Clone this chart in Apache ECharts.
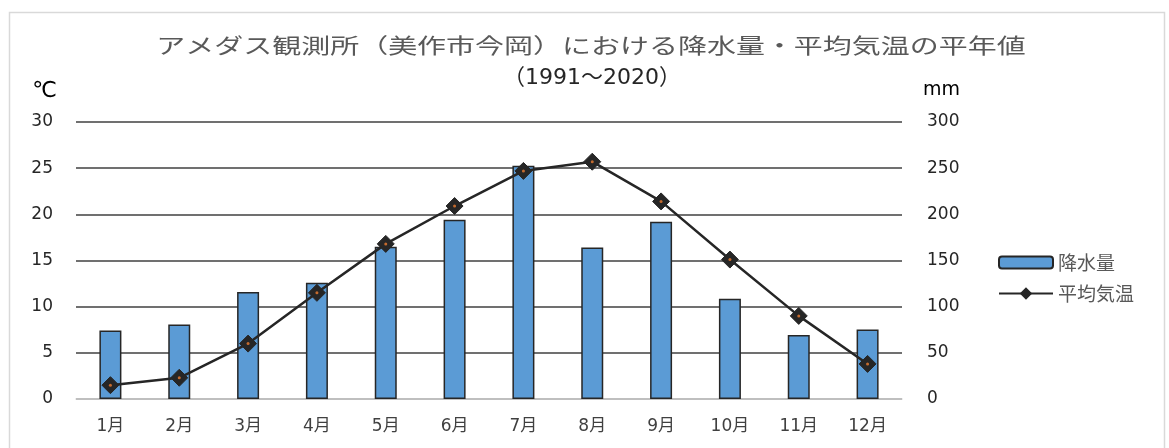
<!DOCTYPE html>
<html>
<head>
<meta charset="utf-8">
<script src="https://cdn.jsdelivr.net/npm/echarts@6/dist/echarts.min.js"></script>
<style>
html,body{margin:0;padding:0;background:#fff;}
#c{width:1169px;height:448px;}
</style>
</head>
<body>
<div id="c"></div>
<script>
const titleText = 'アメダス観測所（美作市今岡）における降水量・平均気温の平年値';
const subTitleText = '（1991～2020）';
const months = ['1月','2月','3月','4月','5月','6月','7月','8月','9月','10月','11月','12月'];
const precipitation = [74.2, 80.7, 116, 126, 165, 194, 252.5, 164, 192, 108.5, 69.3, 75.3];
const temperature = [1.5, 2.3, 6.0, 11.5, 16.8, 20.9, 24.7, 25.7, 21.4, 15.1, 9.0, 3.8];
const tempAxis = {name: '℃', min: 0, max: 30, interval: 5};
const precAxis = {name: 'mm', min: 0, max: 300, interval: 50};
const seriesNames = ['降水量', '平均気温'];

const FONT = '"Noto Sans CJK JP", sans-serif';
const NUMFONT = '"DejaVu Sans", "Noto Sans CJK JP", sans-serif';

const chart = echarts.init(document.getElementById('c'), null, {renderer: 'canvas'});
chart.setOption({
  backgroundColor: '#fff',
  animation: false,
  graphic: [
    {type: 'rect', shape: {x: 9.5, y: 12.5, width: 1155, height: 460}, style: {fill: 'none', stroke: '#d9d9d9', lineWidth: 1.5}, z: -1},
    {type: 'text', x: 591, y: 45, scaleX: 1.38, style: {text: titleText, font: '21px ' + FONT, fill: '#595959', textAlign: 'center', textVerticalAlign: 'middle'}},
    {type: 'text', x: 592, y: 78, style: {text: subTitleText, font: '22px ' + NUMFONT, fill: '#262626', textAlign: 'center', textVerticalAlign: 'middle'}}
  ],
  grid: {left: 76, right: 267, top: 122, bottom: 49, containLabel: false},
  legend: {
    orient: 'vertical', left: 993, top: 248, itemWidth: 54, itemHeight: 12, itemGap: 12,
    data: seriesNames,
    textStyle: {fontFamily: FONT, fontSize: 19, color: '#595959'}
  },
  xAxis: {
    type: 'category', data: months,
    axisLine: {lineStyle: {color: '#d9d9d9', width: 1.5}},
    axisTick: {show: false},
    axisLabel: {fontFamily: NUMFONT, fontSize: 17, color: '#404040', margin: 19}
  },
  yAxis: [
    {
      type: 'value', name: tempAxis.name, min: tempAxis.min, max: tempAxis.max, interval: tempAxis.interval,
      nameLocation: 'end', nameGap: 20,
      nameTextStyle: {fontFamily: NUMFONT, fontSize: 22, color: '#000', align: 'right', padding: [0, 19, 0, 0]},
      axisLine: {show: false}, axisTick: {show: false},
      axisLabel: {fontFamily: NUMFONT, fontSize: 17, color: '#262626', margin: 23},
      splitLine: {lineStyle: {color: '#404040', width: 1.5}}
    },
    {
      type: 'value', name: precAxis.name, min: precAxis.min, max: precAxis.max, interval: precAxis.interval,
      nameLocation: 'end', nameGap: 22,
      nameTextStyle: {fontFamily: NUMFONT, fontSize: 19, color: '#000', align: 'left', padding: [0, 0, 0, 21]},
      axisLine: {show: false}, axisTick: {show: false},
      axisLabel: {fontFamily: NUMFONT, fontSize: 17, color: '#262626', margin: 25},
      splitLine: {show: false}
    }
  ],
  series: [
    {
      name: seriesNames[0], type: 'bar', yAxisIndex: 1, data: precipitation, barWidth: 22,
      itemStyle: {color: '#5B9BD5', borderColor: '#262626', borderWidth: 1.5}
    },
    {
      name: seriesNames[1], type: 'line', yAxisIndex: 0, data: temperature,
      symbol: 'diamond', symbolSize: 17, showAllSymbol: true,
      lineStyle: {color: '#262626', width: 2.5},
      itemStyle: {color: '#262626', borderColor: '#262626', borderWidth: 1}
    },
    {
      name: 'dot', type: 'scatter', yAxisIndex: 0, data: temperature, symbol: 'circle', symbolSize: 3,
      itemStyle: {color: '#ED7D31'}, silent: true, z: 5
    }
  ]
});
</script>
</body>
</html>
